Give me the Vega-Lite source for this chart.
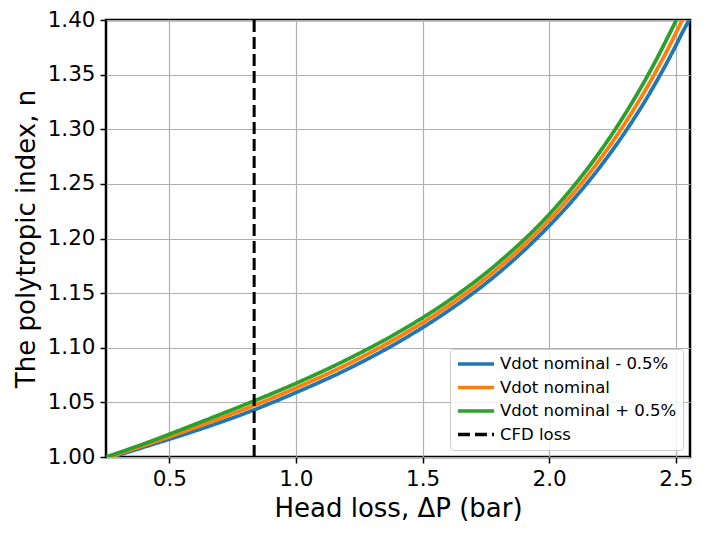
{
  "$schema": "https://vega.github.io/schema/vega-lite/v6.json",
  "width": 584,
  "height": 437,
  "autosize": {"type": "none"},
  "padding": {"left": 106, "top": 20, "right": 16, "bottom": 78},
  "background": "white",
  "config": {
    "font": "DejaVu Sans",
    "view": {"stroke": "black", "strokeWidth": 2.5},
    "axis": {
      "domain": false,
      "grid": true,
      "gridColor": "#b0b0b0",
      "gridWidth": 1.2,
      "tickColor": "black",
      "tickWidth": 1.5,
      "tickSize": 6,
      "labelFont": "DejaVu Sans",
      "labelFontSize": 21.5,
      "labelColor": "black",
      "labelPadding": 5,
      "titleFont": "DejaVu Sans",
      "titleFontSize": 26,
      "titleFontWeight": "normal",
      "titleColor": "black"
    },
    "legend": {
      "orient": "bottom-right",
      "offset": 7,
      "padding": 6,
      "cornerRadius": 3,
      "strokeColor": "#cccccc",
      "fillColor": "rgba(255,255,255,0.85)",
      "symbolType": "stroke",
      "symbolSize": 1300,
      "symbolStrokeWidth": 3.5,
      "clipHeight": 18,
      "labelFont": "DejaVu Sans",
      "labelFontSize": 16.5,
      "labelColor": "black",
      "rowPadding": 5.5,
      "labelLimit": 400
    }
  },
  "datasets": {
    "curves": [
      {"series": "Vdot nominal - 0.5%", "dp": 0.275, "n": 1.0},
      {"series": "Vdot nominal - 0.5%", "dp": 0.4, "n": 1.0091},
      {"series": "Vdot nominal - 0.5%", "dp": 0.6, "n": 1.0238},
      {"series": "Vdot nominal - 0.5%", "dp": 0.8, "n": 1.0401},
      {"series": "Vdot nominal - 0.5%", "dp": 1.0, "n": 1.059},
      {"series": "Vdot nominal - 0.5%", "dp": 1.2, "n": 1.08},
      {"series": "Vdot nominal - 0.5%", "dp": 1.4, "n": 1.1046},
      {"series": "Vdot nominal - 0.5%", "dp": 1.6, "n": 1.1336},
      {"series": "Vdot nominal - 0.5%", "dp": 1.8, "n": 1.1684},
      {"series": "Vdot nominal - 0.5%", "dp": 2.0, "n": 1.2117},
      {"series": "Vdot nominal - 0.5%", "dp": 2.1, "n": 1.2369},
      {"series": "Vdot nominal - 0.5%", "dp": 2.2, "n": 1.2653},
      {"series": "Vdot nominal - 0.5%", "dp": 2.3, "n": 1.2975},
      {"series": "Vdot nominal - 0.5%", "dp": 2.4, "n": 1.3342},
      {"series": "Vdot nominal - 0.5%", "dp": 2.5, "n": 1.3766},
      {"series": "Vdot nominal - 0.5%", "dp": 2.525, "n": 1.3882},
      {"series": "Vdot nominal - 0.5%", "dp": 2.553, "n": 1.4},
      {"series": "Vdot nominal", "dp": 0.262, "n": 1.0},
      {"series": "Vdot nominal", "dp": 0.4, "n": 1.0106},
      {"series": "Vdot nominal", "dp": 0.6, "n": 1.0268},
      {"series": "Vdot nominal", "dp": 0.8, "n": 1.0441},
      {"series": "Vdot nominal", "dp": 1.0, "n": 1.0632},
      {"series": "Vdot nominal", "dp": 1.2, "n": 1.0845},
      {"series": "Vdot nominal", "dp": 1.4, "n": 1.1091},
      {"series": "Vdot nominal", "dp": 1.6, "n": 1.1381},
      {"series": "Vdot nominal", "dp": 1.8, "n": 1.1732},
      {"series": "Vdot nominal", "dp": 2.0, "n": 1.2169},
      {"series": "Vdot nominal", "dp": 2.1, "n": 1.2429},
      {"series": "Vdot nominal", "dp": 2.2, "n": 1.2723},
      {"series": "Vdot nominal", "dp": 2.3, "n": 1.3058},
      {"series": "Vdot nominal", "dp": 2.4, "n": 1.344},
      {"series": "Vdot nominal", "dp": 2.5, "n": 1.3879},
      {"series": "Vdot nominal", "dp": 2.525, "n": 1.4},
      {"series": "Vdot nominal + 0.5%", "dp": 0.25, "n": 1.0},
      {"series": "Vdot nominal + 0.5%", "dp": 0.4, "n": 1.0121},
      {"series": "Vdot nominal + 0.5%", "dp": 0.6, "n": 1.0298},
      {"series": "Vdot nominal + 0.5%", "dp": 0.8, "n": 1.0481},
      {"series": "Vdot nominal + 0.5%", "dp": 1.0, "n": 1.0674},
      {"series": "Vdot nominal + 0.5%", "dp": 1.2, "n": 1.089},
      {"series": "Vdot nominal + 0.5%", "dp": 1.4, "n": 1.1136},
      {"series": "Vdot nominal + 0.5%", "dp": 1.6, "n": 1.1426},
      {"series": "Vdot nominal + 0.5%", "dp": 1.8, "n": 1.178},
      {"series": "Vdot nominal + 0.5%", "dp": 2.0, "n": 1.2221},
      {"series": "Vdot nominal + 0.5%", "dp": 2.1, "n": 1.2489},
      {"series": "Vdot nominal + 0.5%", "dp": 2.2, "n": 1.2793},
      {"series": "Vdot nominal + 0.5%", "dp": 2.3, "n": 1.3141},
      {"series": "Vdot nominal + 0.5%", "dp": 2.4, "n": 1.3538},
      {"series": "Vdot nominal + 0.5%", "dp": 2.502, "n": 1.4}
    ],
    "cfd": [
      {"series": "CFD loss", "dp": 0.835}
    ]
  },
  "layer": [
    {
      "data": {"name": "curves"},
      "mark": {"type": "line", "strokeWidth": 3.8, "clip": true, "interpolate": "monotone"},
      "encoding": {
        "x": {
          "field": "dp",
          "type": "quantitative",
          "scale": {"domain": [0.25, 2.556], "nice": false, "zero": false},
          "axis": {"values": [0.5, 1.0, 1.5, 2.0, 2.5], "format": ".1f", "title": "Head loss, ΔP (bar)", "titlePadding": 6}
        },
        "y": {
          "field": "n",
          "type": "quantitative",
          "scale": {"domain": [1.0, 1.4], "nice": false, "zero": false},
          "axis": {"values": [1.0, 1.05, 1.1, 1.15, 1.2, 1.25, 1.3, 1.35, 1.4], "format": ".2f", "title": "The polytropic index, n", "titlePadding": 8}
        },
        "color": {
          "field": "series",
          "type": "nominal",
          "scale": {
            "domain": ["Vdot nominal - 0.5%", "Vdot nominal", "Vdot nominal + 0.5%", "CFD loss"],
            "range": ["#1f77b4", "#ff7f0e", "#2ca02c", "black"]
          },
          "legend": {"title": null}
        },
        "strokeDash": {
          "field": "series",
          "type": "nominal",
          "scale": {
            "domain": ["Vdot nominal - 0.5%", "Vdot nominal", "Vdot nominal + 0.5%", "CFD loss"],
            "range": [[1, 0], [1, 0], [1, 0], [12, 5]]
          },
          "legend": {"title": null}
        }
      }
    },
    {
      "data": {"name": "cfd"},
      "mark": {"type": "rule", "strokeWidth": 3},
      "encoding": {
        "x": {"field": "dp", "type": "quantitative"},
        "color": {"field": "series", "type": "nominal"},
        "strokeDash": {"field": "series", "type": "nominal"}
      }
    }
  ]
}
